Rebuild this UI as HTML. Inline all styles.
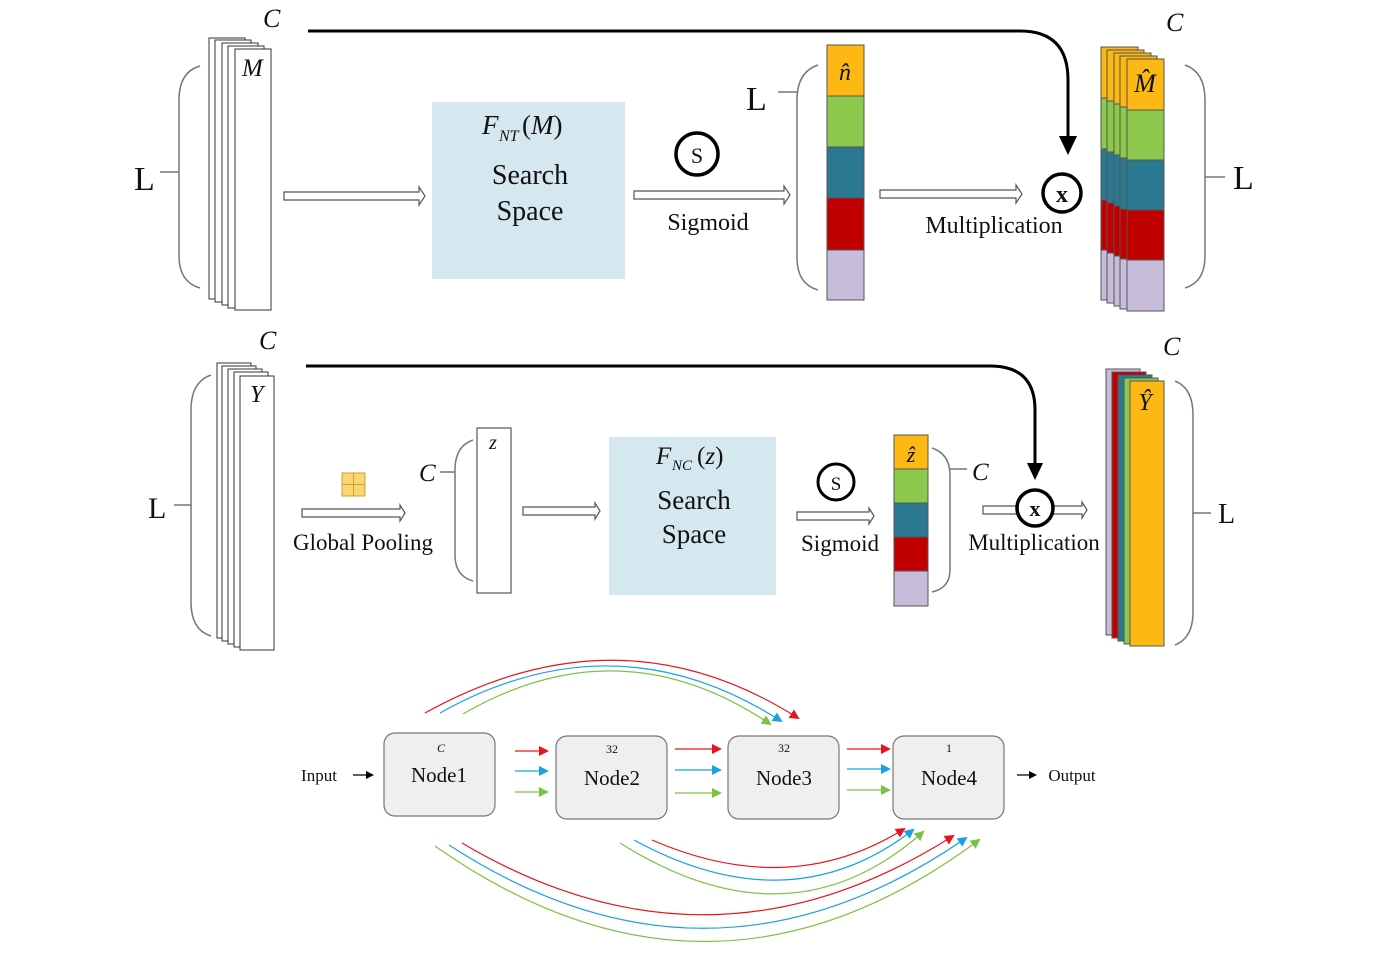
<!DOCTYPE html>
<html><head><meta charset="utf-8"><style>
html,body{margin:0;padding:0;background:#fff;}
svg{display:block;}
text{font-family:"Liberation Serif",serif;fill:#111;}
.it{font-style:italic;}
</style></head><body>
<svg width="1400" height="953" viewBox="0 0 1400 953" xmlns="http://www.w3.org/2000/svg">
<defs>
<marker id="ab" markerWidth="8" markerHeight="8" refX="6" refY="4" orient="auto" markerUnits="userSpaceOnUse"><path d="M0,0 L8,4 L0,8 z" fill="#000"/></marker>
<marker id="mr" markerWidth="10" markerHeight="10" refX="8" refY="5" orient="auto" markerUnits="userSpaceOnUse"><path d="M0,0 L10,5 L0,10 z" fill="#e8141c"/></marker>
<marker id="mb" markerWidth="10" markerHeight="10" refX="8" refY="5" orient="auto" markerUnits="userSpaceOnUse"><path d="M0,0 L10,5 L0,10 z" fill="#1ba1e2"/></marker>
<marker id="mg" markerWidth="10" markerHeight="10" refX="8" refY="5" orient="auto" markerUnits="userSpaceOnUse"><path d="M0,0 L10,5 L0,10 z" fill="#7cc242"/></marker>
</defs>

<!-- ============ TOP ROW ============ -->
<text x="263" y="27" class="it" font-size="26">C</text>
<path d="M308,31 L1020,31 Q1068,31 1068,80 L1068,140" fill="none" stroke="#000" stroke-width="3"/>
<path d="M1059,136 L1077,136 L1068,155 z" fill="#000"/>

<path d="M200,66 Q179,72 179,100 L179,256 Q179,282 200,288" fill="none" stroke="#777" stroke-width="1.5"/>
<line x1="160" y1="172" x2="179" y2="172" stroke="#777" stroke-width="1.5"/>
<text x="134" y="190" font-size="34">L</text>

<g fill="#fff" stroke="#333" stroke-width="1">
<rect x="209" y="38" width="36" height="261"/>
<rect x="215" y="40" width="36" height="262"/>
<rect x="222" y="43" width="36" height="262"/>
<rect x="228" y="46" width="36" height="262"/>
<rect x="235" y="49" width="36" height="261"/>
</g>
<text x="242" y="76" class="it" font-size="25">M</text>

<polygon points="284,192 419,192 419,187 425,196 419,205 419,200 284,200" fill="#fff" stroke="#555" stroke-width="1.2"/>

<rect x="432" y="102" width="193" height="177" fill="#d5e8ef"/>
<text x="482" y="134" class="it" font-size="27">F</text>
<text x="499" y="141" class="it" font-size="16">NT</text>
<text x="522" y="134" font-size="27">(<tspan class="it">M</tspan>)</text>
<text x="530" y="184" font-size="28" text-anchor="middle">Search</text>
<text x="530" y="220" font-size="28" text-anchor="middle">Space</text>

<circle cx="697" cy="154" r="21" fill="#fff" stroke="#000" stroke-width="3.5"/>
<text x="697" y="163" font-size="22" text-anchor="middle" font-family="Liberation Sans">S</text>
<polygon points="634,191 784,191 784,186 790,195 784,204 784,199 634,199" fill="#fff" stroke="#555" stroke-width="1.2"/>
<text x="708" y="230" font-size="24" text-anchor="middle">Sigmoid</text>

<text x="746" y="110" font-size="34">L</text>
<line x1="778" y1="92" x2="797" y2="92" stroke="#777" stroke-width="1.5"/>
<path d="M818,65 Q797,72 797,100 L797,258 Q797,284 818,290" fill="none" stroke="#777" stroke-width="1.5"/>

<g stroke="#555" stroke-width="1">
<rect x="827" y="45" width="37" height="51" fill="#fdb813"/>
<rect x="827" y="96" width="37" height="51" fill="#8cc84b"/>
<rect x="827" y="147" width="37" height="51" fill="#2a7990"/>
<rect x="827" y="198" width="37" height="52" fill="#c00000"/>
<rect x="827" y="250" width="37" height="50" fill="#c7bcd9"/>
</g>
<text x="845" y="80" class="it" font-size="24" text-anchor="middle">n̂</text>

<polygon points="880,190 1016,190 1016,185 1022,194 1016,203 1016,198 880,198" fill="#fff" stroke="#555" stroke-width="1.2"/>
<text x="994" y="233" font-size="24" text-anchor="middle">Multiplication</text>
<circle cx="1062" cy="193" r="19" fill="#fff" stroke="#000" stroke-width="3.5"/>
<text x="1062" y="202" font-size="24" text-anchor="middle" font-family="Liberation Sans" font-weight="bold">x</text>

<g stroke="#555" stroke-width="1">
<g><rect x="1101" y="47" width="37" height="51" fill="#fdb813"/><rect x="1101" y="98" width="37" height="51" fill="#8cc84b"/><rect x="1101" y="149" width="37" height="51" fill="#2a7990"/><rect x="1101" y="200" width="37" height="50" fill="#c00000"/><rect x="1101" y="250" width="37" height="50" fill="#c7bcd9"/></g>
<g><rect x="1107" y="50" width="37" height="51" fill="#fdb813"/><rect x="1107" y="101" width="37" height="51" fill="#8cc84b"/><rect x="1107" y="152" width="37" height="51" fill="#2a7990"/><rect x="1107" y="203" width="37" height="50" fill="#c00000"/><rect x="1107" y="253" width="37" height="50" fill="#c7bcd9"/></g>
<g><rect x="1114" y="53" width="37" height="51" fill="#fdb813"/><rect x="1114" y="104" width="37" height="51" fill="#8cc84b"/><rect x="1114" y="155" width="37" height="51" fill="#2a7990"/><rect x="1114" y="206" width="37" height="50" fill="#c00000"/><rect x="1114" y="256" width="37" height="50" fill="#c7bcd9"/></g>
<g><rect x="1120" y="56" width="37" height="51" fill="#fdb813"/><rect x="1120" y="107" width="37" height="51" fill="#8cc84b"/><rect x="1120" y="158" width="37" height="51" fill="#2a7990"/><rect x="1120" y="209" width="37" height="50" fill="#c00000"/><rect x="1120" y="259" width="37" height="50" fill="#c7bcd9"/></g>
<g><rect x="1127" y="59" width="37" height="51" fill="#fdb813"/><rect x="1127" y="110" width="37" height="50" fill="#8cc84b"/><rect x="1127" y="160" width="37" height="50" fill="#2a7990"/><rect x="1127" y="210" width="37" height="50" fill="#c00000"/><rect x="1127" y="260" width="37" height="51" fill="#c7bcd9"/></g>
</g>
<text x="1145" y="92" class="it" font-size="26" text-anchor="middle">M̂</text>
<text x="1166" y="31" class="it" font-size="26">C</text>
<path d="M1185,65 Q1205,72 1205,100 L1205,256 Q1205,282 1185,288" fill="none" stroke="#777" stroke-width="1.5"/>
<line x1="1205" y1="177" x2="1225" y2="177" stroke="#777" stroke-width="1.5"/>
<text x="1233" y="189" font-size="34">L</text>

<!-- ============ SECOND ROW ============ -->
<text x="259" y="349" class="it" font-size="26">C</text>
<path d="M306,366 L990,366 Q1035,366 1035,410 L1035,465" fill="none" stroke="#000" stroke-width="3"/>
<path d="M1027,463 L1043,463 L1035,480 z" fill="#000"/>

<path d="M211,375 Q191,382 191,410 L191,602 Q191,630 211,636" fill="none" stroke="#777" stroke-width="1.5"/>
<line x1="174" y1="505" x2="191" y2="505" stroke="#777" stroke-width="1.5"/>
<text x="148" y="518" font-size="30">L</text>
<g fill="#fff" stroke="#333" stroke-width="1">
<rect x="217" y="363" width="34" height="275"/>
<rect x="222" y="366" width="34" height="275"/>
<rect x="228" y="369" width="34" height="275"/>
<rect x="234" y="372" width="34" height="275"/>
<rect x="240" y="376" width="34" height="274"/>
</g>
<text x="250" y="402" class="it" font-size="24">Y</text>

<rect x="342" y="473" width="23" height="23" fill="#fbd673" stroke="#c9a03a" stroke-width="1"/>
<line x1="353.5" y1="473" x2="353.5" y2="496" stroke="#c9a03a"/>
<line x1="342" y1="484.5" x2="365" y2="484.5" stroke="#c9a03a"/>
<polygon points="302,509 400,509 400,505 405,513 400,521 400,517 302,517" fill="#fff" stroke="#555" stroke-width="1.2"/>
<text x="363" y="550" font-size="23" text-anchor="middle">Global Pooling</text>

<text x="419" y="481" class="it" font-size="25">C</text>
<line x1="440" y1="472" x2="455" y2="472" stroke="#777" stroke-width="1.5"/>
<path d="M473,440 Q455,446 455,470 L455,555 Q455,576 473,581" fill="none" stroke="#777" stroke-width="1.5"/>
<rect x="477" y="428" width="34" height="165" fill="#fff" stroke="#333" stroke-width="1"/>
<text x="493" y="449" class="it" font-size="20" text-anchor="middle">z</text>

<polygon points="523,507 595,507 595,503 600,511 595,519 595,515 523,515" fill="#fff" stroke="#555" stroke-width="1.2"/>

<rect x="609" y="437" width="167" height="158" fill="#d5e8ef"/>
<text x="656" y="464" class="it" font-size="25">F</text>
<text x="672" y="470" class="it" font-size="15">NC</text>
<text x="697" y="464" font-size="25">(<tspan class="it">z</tspan>)</text>
<text x="694" y="509" font-size="27" text-anchor="middle">Search</text>
<text x="694" y="543" font-size="27" text-anchor="middle">Space</text>

<circle cx="836" cy="482" r="18" fill="#fff" stroke="#000" stroke-width="3"/>
<text x="836" y="490" font-size="19" text-anchor="middle" font-family="Liberation Sans">S</text>
<polygon points="797,512 869,512 869,508 874,516 869,524 869,520 797,520" fill="#fff" stroke="#555" stroke-width="1.2"/>
<text x="840" y="551" font-size="23" text-anchor="middle">Sigmoid</text>

<g stroke="#555" stroke-width="1">
<rect x="894" y="435" width="34" height="34" fill="#fdb813"/>
<rect x="894" y="469" width="34" height="34" fill="#8cc84b"/>
<rect x="894" y="503" width="34" height="34" fill="#2a7990"/>
<rect x="894" y="537" width="34" height="34" fill="#c00000"/>
<rect x="894" y="571" width="34" height="35" fill="#c7bcd9"/>
</g>
<text x="911" y="462" class="it" font-size="22" text-anchor="middle">ẑ</text>
<path d="M932,448 Q950,454 950,475 L950,570 Q950,588 932,592" fill="none" stroke="#777" stroke-width="1.5"/>
<line x1="950" y1="469" x2="967" y2="469" stroke="#777" stroke-width="1.5"/>
<text x="972" y="480" class="it" font-size="25">C</text>

<polygon points="983,506 1082,506 1082,502 1087,510 1082,518 1082,514 983,514" fill="#fff" stroke="#555" stroke-width="1.2"/>
<circle cx="1035" cy="508" r="18" fill="#fff" stroke="#000" stroke-width="3.5"/>
<text x="1035" y="516" font-size="22" text-anchor="middle" font-family="Liberation Sans" font-weight="bold">x</text>
<text x="1034" y="550" font-size="23" text-anchor="middle">Multiplication</text>

<g stroke="#555" stroke-width="1">
<rect x="1106" y="369" width="34" height="266" fill="#c7bcd9"/>
<rect x="1112" y="372" width="34" height="266" fill="#c00000"/>
<rect x="1118" y="375" width="34" height="266" fill="#2a7990"/>
<rect x="1124" y="378" width="34" height="266" fill="#8cc84b"/>
<rect x="1130" y="381" width="34" height="265" fill="#fdb813"/>
</g>
<text x="1145" y="410" class="it" font-size="24" text-anchor="middle">Ŷ</text>
<text x="1163" y="355" class="it" font-size="26">C</text>
<path d="M1175,381 Q1193,388 1193,415 L1193,612 Q1193,638 1175,645" fill="none" stroke="#777" stroke-width="1.5"/>
<line x1="1193" y1="513" x2="1211" y2="513" stroke="#777" stroke-width="1.5"/>
<text x="1218" y="523" font-size="28">L</text>

<!-- ============ BOTTOM DAG ============ -->
<g fill="none" stroke-width="1.2">
<path d="M425,713 Q620,605 798,718" stroke="#e8141c" marker-end="url(#mr)"/>
<path d="M440,713 Q615,615 781,721" stroke="#1ba1e2" marker-end="url(#mb)"/>
<path d="M463,714 Q620,623 770,724" stroke="#7cc242" marker-end="url(#mg)"/>

<path d="M515,751 L547,751" stroke="#e8141c" marker-end="url(#mr)"/>
<path d="M515,771 L547,771" stroke="#1ba1e2" marker-end="url(#mb)"/>
<path d="M515,792 L547,792" stroke="#7cc242" marker-end="url(#mg)"/>
<path d="M675,749 L720,749" stroke="#e8141c" marker-end="url(#mr)"/>
<path d="M675,770 L720,770" stroke="#1ba1e2" marker-end="url(#mb)"/>
<path d="M675,793 L720,793" stroke="#7cc242" marker-end="url(#mg)"/>
<path d="M847,749 L889,749" stroke="#e8141c" marker-end="url(#mr)"/>
<path d="M847,769 L889,769" stroke="#1ba1e2" marker-end="url(#mb)"/>
<path d="M847,790 L889,790" stroke="#7cc242" marker-end="url(#mg)"/>

<path d="M652,840 Q790,900 904,829" stroke="#e8141c" marker-end="url(#mr)"/>
<path d="M634,840 Q790,925 913,830" stroke="#1ba1e2" marker-end="url(#mb)"/>
<path d="M620,843 Q790,950 923,832" stroke="#7cc242" marker-end="url(#mg)"/>

<path d="M462,843 Q710,990 953,836" stroke="#e8141c" marker-end="url(#mr)"/>
<path d="M449,845 Q710,1015 966,838" stroke="#1ba1e2" marker-end="url(#mb)"/>
<path d="M435,846 Q710,1040 979,840" stroke="#7cc242" marker-end="url(#mg)"/>
</g>

<g fill="#efefef" stroke="#777" stroke-width="1.2">
<rect x="384" y="733" width="111" height="83" rx="11"/>
<rect x="556" y="736" width="111" height="83" rx="11"/>
<rect x="728" y="736" width="111" height="83" rx="11"/>
<rect x="893" y="736" width="111" height="83" rx="11"/>
</g>
<text x="441" y="752" class="it" font-size="12" text-anchor="middle">C</text>
<text x="612" y="753" font-size="12" text-anchor="middle">32</text>
<text x="784" y="752" font-size="12" text-anchor="middle">32</text>
<text x="949" y="752" font-size="12" text-anchor="middle">1</text>
<text x="439" y="782" font-size="21" text-anchor="middle">Node1</text>
<text x="612" y="785" font-size="21" text-anchor="middle">Node2</text>
<text x="784" y="785" font-size="21" text-anchor="middle">Node3</text>
<text x="949" y="785" font-size="21" text-anchor="middle">Node4</text>

<text x="319" y="781" font-size="17" text-anchor="middle">Input</text>
<line x1="353" y1="775" x2="372" y2="775" stroke="#000" stroke-width="1.2" marker-end="url(#ab)"/>
<line x1="1017" y1="775" x2="1035" y2="775" stroke="#000" stroke-width="1.2" marker-end="url(#ab)"/>
<text x="1072" y="781" font-size="17" text-anchor="middle">Output</text>
</svg>
</body></html>
